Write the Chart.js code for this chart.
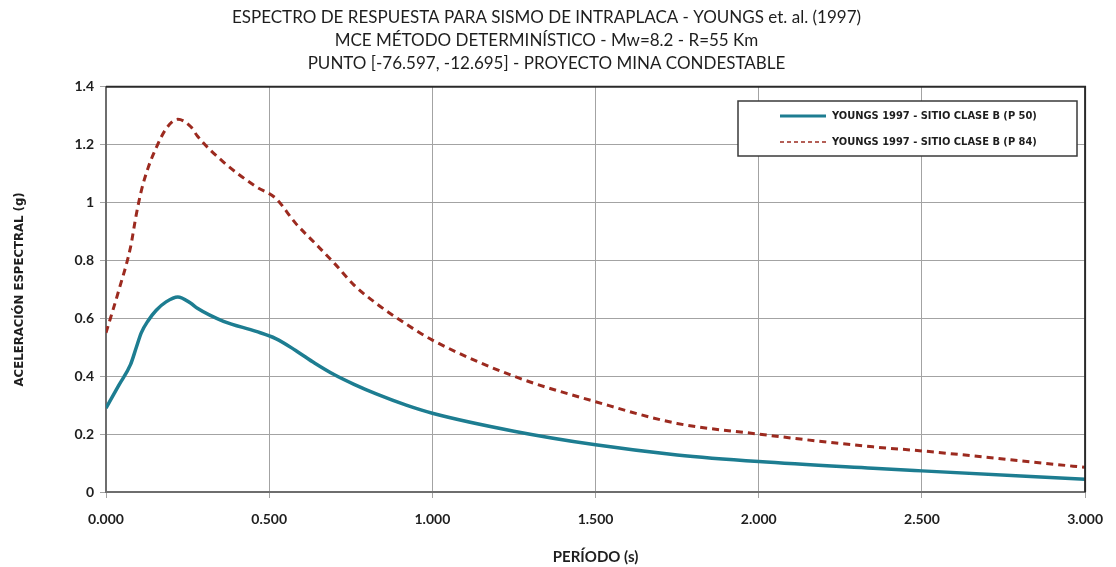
<!DOCTYPE html>
<html>
<head>
<meta charset="utf-8">
<script src="https://cdn.jsdelivr.net/npm/chart.js@4.4.1/dist/chart.umd.min.js"></script>
<style>
  html, body { margin: 0; padding: 0; background: #fff; }
  #wrap { width: 1116px; height: 567px; }
</style>
</head>
<body>
<div id="wrap"><canvas id="espectro"></canvas></div>
<script>
const TEXT_COLOR = '#1e1e1e';
const GRID_COLOR = '#a3a3a3';
const P50_COLOR = '#1d7d91';
const P84_COLOR = '#9c2a1f';

// Periodo (s)
const periods = [0, 0.04, 0.075, 0.093, 0.108, 0.129, 0.154, 0.184, 0.22, 0.26, 0.28, 0.36, 0.46, 0.52, 0.58, 0.64, 0.7, 0.76, 0.83, 0.92, 1.0, 1.25, 1.5, 1.75, 2.0, 2.35, 2.5, 3.0];
// Aceleracion espectral (g)
const p50 = [0.29, 0.37, 0.44, 0.50, 0.55, 0.592, 0.628, 0.657, 0.674, 0.652, 0.635, 0.59, 0.555, 0.53, 0.49, 0.445, 0.405, 0.372, 0.338, 0.300, 0.272, 0.21, 0.163, 0.128, 0.105, 0.082, 0.073, 0.044];
const p84 = [0.55, 0.70, 0.845, 0.96, 1.04, 1.12, 1.19, 1.255, 1.288, 1.262, 1.23, 1.14, 1.055, 1.015, 0.93, 0.86, 0.79, 0.715, 0.65, 0.58, 0.525, 0.40, 0.312, 0.237, 0.20, 0.156, 0.142, 0.085];

const seriesLabels = ['YOUNGS 1997 - SITIO CLASE B (P 50)', 'YOUNGS 1997 - SITIO CLASE B (P 84)'];
const titleLines = [
    'ESPECTRO DE RESPUESTA PARA SISMO DE INTRAPLACA - YOUNGS et. al. (1997)',
    'MCE MÉTODO DETERMINÍSTICO - Mw=8.2 - R=55 Km',
    'PUNTO [-76.597, -12.695] - PROYECTO MINA CONDESTABLE'
];

function toPoints(ys) {
    return periods.map((p, i) => ({ x: p, y: ys[i] }));
}

// top/right border of the plot area + legend box inside it
const framePlugin = {
    id: 'frame',
    afterDraw(chart) {
        const ctx = chart.ctx;
        const a = chart.chartArea;
        ctx.save();
        ctx.strokeStyle = '#2a2a2a';
        ctx.lineWidth = 2;
        ctx.beginPath();
        ctx.moveTo(a.left, a.top);
        ctx.lineTo(a.right, a.top);
        ctx.lineTo(a.right, a.bottom);
        ctx.stroke();

        // legend
        const bx = 738, by = 101, bw = 339, bh = 55;
        ctx.fillStyle = '#fff';
        ctx.fillRect(bx, by, bw, bh);
        ctx.strokeStyle = '#3a3a3a';
        ctx.lineWidth = 1.5;
        ctx.strokeRect(bx, by, bw, bh);
        ctx.font = 'bold 11px "DejaVu Sans Condensed", sans-serif';
        ctx.textBaseline = 'middle';
        chart.data.datasets.forEach((ds, i) => {
            const y = by + 15 + i * 26;
            ctx.strokeStyle = ds.borderColor;
            ctx.lineWidth = i === 0 ? 3 : 1.5;
            ctx.setLineDash(ds.borderDash ? [4, 3] : []);
            ctx.beginPath();
            ctx.moveTo(780, y);
            ctx.lineTo(826, y);
            ctx.stroke();
            ctx.setLineDash([]);
            ctx.fillStyle = TEXT_COLOR;
            ctx.fillText(ds.label, 832, y);
        });
        ctx.restore();
    }
};

const data = {
    datasets: [
        {
            label: seriesLabels[0],
            data: toPoints(p50),
            borderColor: P50_COLOR,
            borderWidth: 3.5,
            pointRadius: 0,
            cubicInterpolationMode: 'monotone',
            fill: false
        },
        {
            label: seriesLabels[1],
            data: toPoints(p84),
            borderColor: P84_COLOR,
            borderWidth: 3,
            borderDash: [7, 5],
            pointRadius: 0,
            cubicInterpolationMode: 'monotone',
            fill: false
        }
    ]
};

const config = {
    type: 'line',
    data: data,
    plugins: [framePlugin],
    options: {
        responsive: true,
        maintainAspectRatio: false,
        animation: false,
        layout: { padding: { top: 0, right: 23, left: 0, bottom: 0 } },
        plugins: {
            legend: { display: false },
            tooltip: { enabled: false },
            title: {
                display: true,
                text: titleLines,
                color: TEXT_COLOR,
                font: { family: 'Lato, "Open Sans", sans-serif', size: 17, weight: 'normal', lineHeight: 1.35 },
                padding: { top: 6, bottom: 12 }
            }
        },
        scales: {
            x: {
                type: 'linear',
                min: 0,
                max: 3,
                afterFit(scale) { scale.height = 75; },
                grid: { color: GRID_COLOR, tickLength: 6, drawTicks: true },
                border: { color: '#6e6e6e', width: 2 },
                ticks: {
                    stepSize: 0.5,
                    padding: 13,
                    maxRotation: 0,
                    color: TEXT_COLOR,
                    font: { family: 'Lato, "Open Sans", sans-serif', size: 14, weight: 'bold' },
                    callback: (v) => v.toFixed(3)
                },
                title: {
                    display: true,
                    text: 'PERÍODO (s)',
                    color: TEXT_COLOR,
                    font: { family: 'Lato, "Open Sans", sans-serif', size: 15, weight: 'bold' },
                    padding: { top: 0, bottom: 1 }
                }
            },
            y: {
                min: 0,
                max: 1.4,
                afterFit(scale) { scale.width = 106; },
                grid: { color: GRID_COLOR, tickLength: 6 },
                border: { color: '#6e6e6e', width: 2 },
                ticks: {
                    stepSize: 0.2,
                    padding: 6,
                    color: TEXT_COLOR,
                    font: { family: 'Lato, "Open Sans", sans-serif', size: 14, weight: 'bold' },
                    callback: (v) => String(Number(v.toFixed(1)))
                },
                title: {
                    display: true,
                    text: 'ACELERACIÓN ESPECTRAL (g)',
                    color: TEXT_COLOR,
                    font: { family: '"DejaVu Sans Condensed", sans-serif', size: 13, weight: 'bold' },
                    padding: { top: 12, bottom: 0 }
                }
            }
        }
    }
};

new Chart(document.getElementById('espectro'), config);
</script>
</body>
</html>
